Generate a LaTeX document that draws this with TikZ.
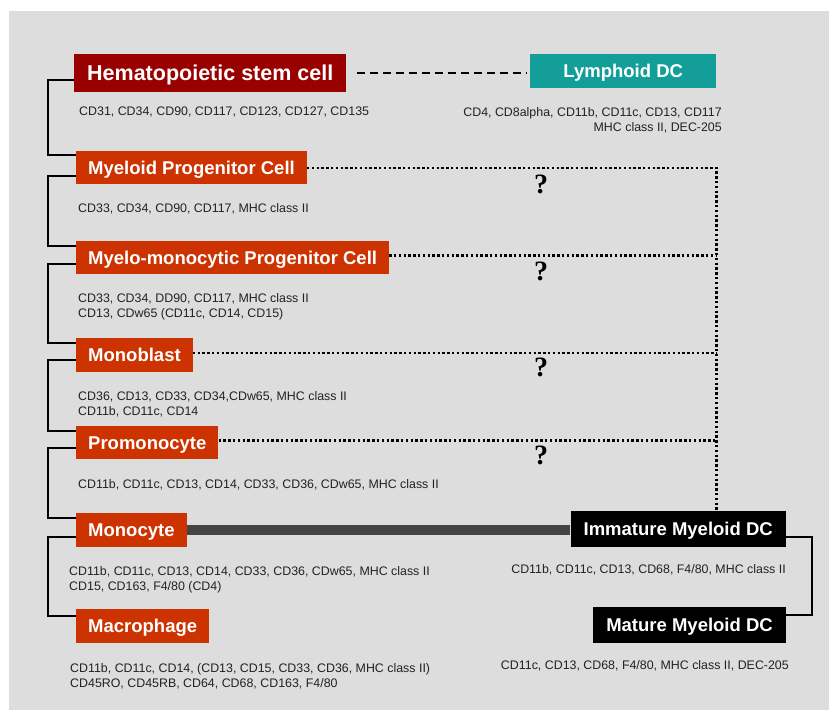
\documentclass[tikz,border=0pt]{standalone}
\usepackage{fontspec}
\setmainfont{Liberation Sans}
\newfontfamily\qfont{Liberation Serif}
\usetikzlibrary{positioning, calc}

\definecolor{bggrey}{HTML}{DDDDDD}
\definecolor{hscred}{HTML}{990000}
\definecolor{cellred}{HTML}{CC3300}
\definecolor{lymphteal}{HTML}{149E99}
\definecolor{linegrey}{HTML}{444444}
\definecolor{markgrey}{HTML}{222222}

\begin{document}
\begin{tikzpicture}[x=1pt, y=-1pt,
  cell/.style={rectangle, fill=cellred, text=white, inner xsep=12pt, inner ysep=0pt,
    minimum height=33pt, text height=13.2pt, text depth=0pt,
    font=\fontsize{18.5}{22}\selectfont\bfseries},
  markers/.style={inner sep=0pt, text=markgrey, font=\fontsize{12.4}{15.3}\selectfont},
  quest/.style={inner sep=0pt, font=\qfont\fontsize{28}{28}\selectfont\bfseries},
  bracket/.style={line width=2.6pt},
  dotline/.style={line width=2.4pt, dash pattern=on 2.4pt off 2.4pt},
  dashline/.style={line width=2.8pt, dash pattern=on 8pt off 5pt, shorten <=10pt, shorten >=3pt}]
  \useasboundingbox (0,0) rectangle (831,712);
  \fill[bggrey] (9,11) rectangle (829,710);

  % cells
  \node[cell, fill=hscred, minimum height=38pt, inner xsep=13pt, text height=15.4pt,
    font=\fontsize{21.5}{24}\selectfont\bfseries, anchor=west] (hsc) at (74,73) {Hematopoietic stem cell};
  \node[cell, fill=lymphteal, minimum height=34pt, minimum width=186pt, anchor=west] (lymph) at (530,71) {Lymphoid DC};
  \node[cell, anchor=west] (mpc) at (76,167.5) {Myeloid Progenitor Cell};
  \node[cell, anchor=west] (mmpc) at (76,257.5) {Myelo-monocytic Progenitor Cell};
  \node[cell, minimum height=34pt, anchor=west] (monob) at (76,355) {Monoblast};
  \node[cell, anchor=west] (promono) at (76,442.5) {Promonocyte};
  \node[cell, minimum height=34pt, anchor=west] (monocyte) at (76,530) {Monocyte};
  \node[cell, minimum height=34pt, anchor=west] (macro) at (76,626) {Macrophage};
  \node[cell, fill=black, minimum height=36pt, inner xsep=13pt, anchor=east] (imm) at (786,529) {Immature Myeloid DC};
  \node[cell, fill=black, minimum height=36pt, inner xsep=13pt, anchor=east] (mat) at (786,625) {Mature Myeloid DC};

  % markers
  \node[markers, anchor=north west] (hscm) at (79,107) {CD31, CD34, CD90, CD117, CD123, CD127, CD135};
  \node[markers, anchor=north east, align=right] (lymphm) at (722,107) {CD4, CD8alpha, CD11b, CD11c, CD13, CD117\\MHC class II, DEC-205};
  \node[markers, anchor=north west] (mpcm) at (78,203) {CD33, CD34, CD90, CD117, MHC class II};
  \node[markers, anchor=north west, align=left] (mmpcm) at (78,293.5) {CD33, CD34, DD90, CD117, MHC class II\\CD13, CDw65 (CD11c, CD14, CD15)};
  \node[markers, anchor=north west, align=left] (monobm) at (78,391) {CD36, CD13, CD33, CD34,CDw65, MHC class II\\CD11b, CD11c, CD14};
  \node[markers, anchor=north west] (promonom) at (78,479) {CD11b, CD11c, CD13, CD14, CD33, CD36, CDw65, MHC class II};
  \node[markers, anchor=north west, align=left] (monocytem) at (69,566) {CD11b, CD11c, CD13, CD14, CD33, CD36, CDw65, MHC class II\\CD15, CD163, F4/80 (CD4)};
  \node[markers, anchor=north west, align=left] (macrom) at (70,663) {CD11b, CD11c, CD14, (CD13, CD15, CD33, CD36, MHC class II)\\CD45RO, CD45RB, CD64, CD68, CD163, F4/80};
  \node[markers, anchor=north east] (immm) at (786,564) {CD11b, CD11c, CD13, CD68, F4/80, MHC class II};
  \node[markers, anchor=north east] (matm) at (789,660) {CD11c, CD13, CD68, F4/80, MHC class II, DEC-205};

  % unknown steps
  \node[quest] (q1) at (541,184) {?};
  \node[quest] (q2) at (541,271) {?};
  \node[quest] (q3) at (541,367) {?};
  \node[quest] (q4) at (541,455) {?};

  % lineage
  \draw[bracket] ([yshift=-7pt]hsc.west) -- ++(-26,0) |- ([yshift=12.5pt]mpc.west);
  \draw[bracket] ([yshift=-8.5pt]mpc.west) -- ++(-28,0) |- ([yshift=11.5pt]mmpc.west);
  \draw[bracket] ([yshift=-6.5pt]mmpc.west) -- ++(-28,0) |- ([yshift=12pt]monob.west);
  \draw[bracket] ([yshift=-5pt]monob.west) -- ++(-28,0) |- ([yshift=11.5pt]promono.west);
  \draw[bracket] ([yshift=-5.5pt]promono.west) -- ++(-28,0) |- ([yshift=12pt]monocyte.west);
  \draw[bracket] ([yshift=-7pt]monocyte.west) -- ++(-28,0) |- ([yshift=10pt]macro.west);
  \draw[bracket, line width=2pt] ([yshift=-8pt]imm.east) -- ++(26,0) |- ([yshift=10pt]mat.east);

  \draw[line width=9.5pt, linegrey] (monocyte.east) -- (monocyte.east -| imm.west);
  \draw[dashline] (hsc.east) -- (hsc.east -| lymph.west);

  \draw[dotline] ([yshift=-0.5pt]mpc.east) -| (lymph.east |- imm.north);
  \draw[dotline] ([yshift=2pt]mmpc.east) -- ([yshift=2pt]mmpc.east -| lymph.east);
  \draw[dotline] ([yshift=2pt]monob.east) -- ([yshift=2pt]monob.east -| lymph.east);
  \draw[dotline] ([yshift=2pt]promono.east) -- ([yshift=2pt]promono.east -| lymph.east);
\end{tikzpicture}
\end{document}
